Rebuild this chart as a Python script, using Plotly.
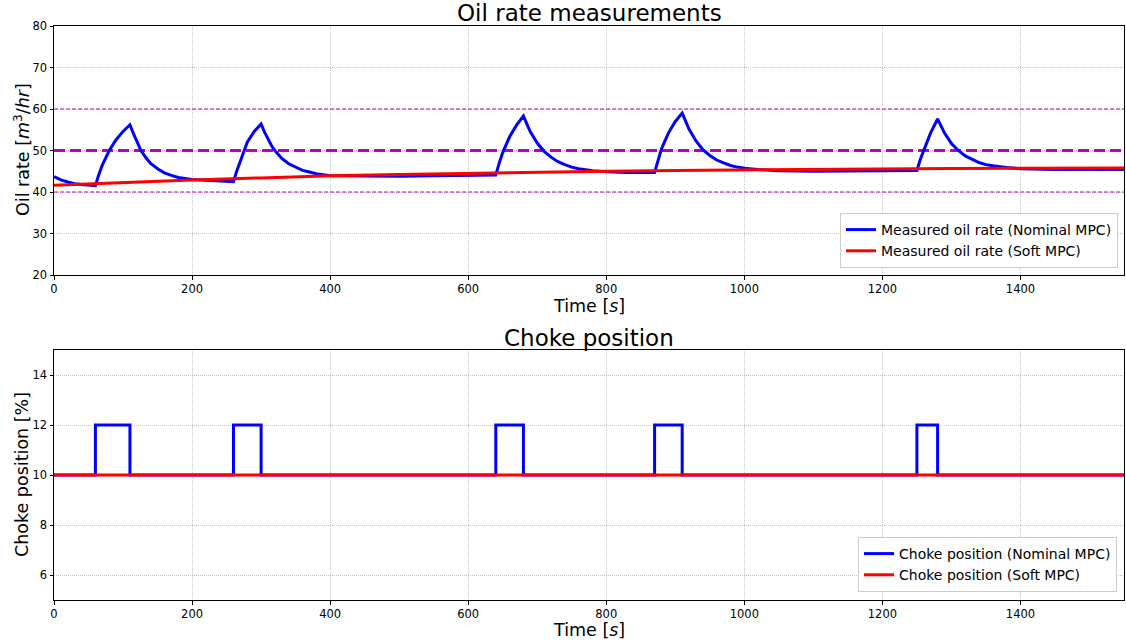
import plotly.graph_objects as go

# ---------------- data ----------------
t_oil_nominal = [0, 10, 20, 30, 40, 50, 60, 65, 70, 80, 90, 100, 110, 115, 120, 126, 133, 140, 150, 160, 170, 180, 200, 220, 240, 260,
                 265, 270, 275, 280, 290, 300, 305, 310, 315, 320, 330, 340, 350, 360, 370, 380, 400, 450, 500, 550, 600, 640,
                 645, 650, 660, 670, 680, 685, 690, 700, 710, 720, 730, 740, 750, 760, 780, 800, 830, 870,
                 875, 880, 890, 900, 910, 915, 920, 930, 940, 950, 960, 970, 980, 990, 1000, 1020, 1050, 1100, 1150, 1200, 1250,
                 1255, 1260, 1270, 1280, 1285, 1290, 1300, 1310, 1320, 1330, 1340, 1350, 1360, 1380, 1400, 1450, 1500, 1550]
oil_nominal = [43.7, 42.9, 42.4, 42.0, 41.8, 41.6, 41.5, 44.2, 46.5, 50.0, 52.6, 54.6, 56.2, 54.1, 52.4, 50.0, 48.3, 46.9, 45.6, 44.6, 44.0, 43.5, 43.0, 42.8, 42.6, 42.5,
               45.2, 47.5, 50.0, 52.0, 54.6, 56.4, 54.4, 52.7, 51.2, 50.0, 48.1, 46.8, 45.9, 45.2, 44.8, 44.4, 43.9, 43.8, 43.8, 43.9, 44.0, 44.1,
               47.0, 49.5, 53.3, 56.1, 58.3, 56.2, 54.5, 51.8, 49.8, 48.4, 47.3, 46.6, 46.0, 45.6, 45.1, 44.9, 44.7, 44.7,
               47.8, 50.4, 54.2, 57.0, 59.0, 56.9, 55.1, 52.3, 50.2, 48.8, 47.7, 47.0, 46.4, 46.0, 45.7, 45.4, 45.1, 45.0, 45.1, 45.1, 45.2,
               47.9, 50.2, 54.3, 57.6, 55.7, 54.2, 51.7, 50.0, 48.7, 47.8, 47.1, 46.6, 46.3, 45.9, 45.6, 45.45, 45.4, 45.4]

t_oil_soft = [0, 100, 200, 300, 400, 500, 600, 700, 800, 900, 1000, 1100, 1200, 1300, 1400, 1550]
oil_soft = [41.6, 42.3, 42.9, 43.4, 43.9, 44.2, 44.5, 44.8, 45.0, 45.2, 45.35, 45.5, 45.6, 45.65, 45.7, 45.8]

t_choke_nominal = [0, 60, 110, 260, 300, 640, 680, 870, 910, 1250, 1280, 1550]
choke_nominal = [10, 12, 10, 12, 10, 12, 10, 12, 10, 12, 10, 10]

t_choke_soft = [0, 1550]
choke_soft = [10, 10]

oil_limits_t = [0, 1550]
oil_upper = [60, 60]
oil_setpoint = [50, 50]
oil_lower = [40, 40]

x_ticks = [0, 200, 400, 600, 800, 1000, 1200, 1400]
y1_ticks = [20, 30, 40, 50, 60, 70, 80]
y2_ticks = [6, 8, 10, 12, 14]

# ---------------- figure ----------------
BLUE = "#0000ff"
RED = "#ff0000"
MAG = "#bf00bf"
FONT = "DejaVu Sans"

W, H = 1126, 644
ML, MR, MT, MB = 54, 2, 26, 44
PW, PH = W - ML - MR, H - MT - MB


def py(px_y):
    """pixel y (from top) -> paper fraction"""
    return (H - MB - px_y) / PH


def px(px_x):
    return (px_x - ML) / PW


fig = go.Figure()

# reference lines (top)
for yv, w, d in [(oil_upper, 1.2, "4px,2px"), (oil_lower, 1.2, "4px,2px"), (oil_setpoint, 3, "11px,5px")]:
    fig.add_trace(go.Scatter(x=oil_limits_t, y=yv, mode="lines", line=dict(color=MAG, width=w, dash=d),
                             showlegend=False, hoverinfo="skip", xaxis="x", yaxis="y"))

fig.add_trace(go.Scatter(x=t_oil_nominal, y=oil_nominal, mode="lines", line=dict(color=BLUE, width=3),
                         name="Measured oil rate (Nominal MPC)", xaxis="x", yaxis="y", legend="legend"))
fig.add_trace(go.Scatter(x=t_oil_soft, y=oil_soft, mode="lines", line=dict(color=RED, width=3),
                         name="Measured oil rate (Soft MPC)", xaxis="x", yaxis="y", legend="legend"))

fig.add_trace(go.Scatter(x=t_choke_nominal, y=choke_nominal, mode="lines", line=dict(color=BLUE, width=3, shape="hv"),
                         name="Choke position (Nominal MPC)", xaxis="x2", yaxis="y2", legend="legend2"))
fig.add_trace(go.Scatter(x=t_choke_soft, y=choke_soft, mode="lines", line=dict(color=RED, width=3),
                         name="Choke position (Soft MPC)", xaxis="x2", yaxis="y2", legend="legend2"))

axis_common = dict(showline=True, linecolor="black", linewidth=1, mirror=True, ticks="outside",
                   ticklen=3.5, tickcolor="black", showgrid=True, gridcolor="#c4c4c4", griddash="1px,1px",
                   gridwidth=1, zeroline=False, tickfont=dict(family=FONT, size=11.5, color="black"))

top_dom = [py(275), 1.0]
bot_dom = [0.0, py(350)]

legend_common = dict(xanchor="right", yanchor="bottom", bgcolor="white", bordercolor="#cccccc",
                     borderwidth=1, font=dict(family=FONT, size=14), tracegroupgap=0)

fig.update_layout(
    width=W, height=H,
    margin=dict(l=ML, r=MR, t=MT, b=MB),
    paper_bgcolor="white", plot_bgcolor="white",
    font=dict(family=FONT, color="black"),
    xaxis=dict(domain=[0, 1], range=[0, 1550], tickvals=x_ticks, anchor="y", **axis_common),
    yaxis=dict(domain=top_dom, range=[20, 80], tickvals=y1_ticks, anchor="x", **axis_common),
    xaxis2=dict(domain=[0, 1], range=[0, 1550], tickvals=x_ticks, anchor="y2", **axis_common),
    yaxis2=dict(domain=bot_dom, range=[5, 15], tickvals=y2_ticks, anchor="x2", **axis_common),
    legend=dict(x=px(1118), y=py(268), **legend_common),
    legend2=dict(x=px(1117), y=py(592), **legend_common),
    annotations=[
        dict(text="Oil rate measurements", x=0.5, y=py(13), xref="paper", yref="paper", xanchor="center",
             yanchor="middle", showarrow=False, font=dict(family=FONT, size=23)),
        dict(text="Choke position", x=0.5, y=py(338), xref="paper", yref="paper", xanchor="center",
             yanchor="middle", showarrow=False, font=dict(family=FONT, size=23)),
        dict(text="Time [<i>s</i>]", x=0.5, y=py(306), xref="paper", yref="paper", xanchor="center",
             yanchor="middle", showarrow=False, borderpad=0, font=dict(family=FONT, size=17.5)),
        dict(text="Time [<i>s</i>]", x=0.5, y=py(630), xref="paper", yref="paper", xanchor="center",
             yanchor="middle", showarrow=False, borderpad=0, font=dict(family=FONT, size=17.5)),
        dict(text="Oil rate [<i>m</i><sup>3</sup>/<i>hr</i>]", x=px(22), y=py(150), xref="paper", yref="paper",
             xanchor="center", yanchor="middle", textangle=-90, showarrow=False, font=dict(family=FONT, size=17.5)),
        dict(text="Choke position [%]", x=px(22), y=py(475), xref="paper", yref="paper",
             xanchor="center", yanchor="middle", textangle=-90, showarrow=False, font=dict(family=FONT, size=17.5)),
    ],
)

fig.write_html("out.html")
